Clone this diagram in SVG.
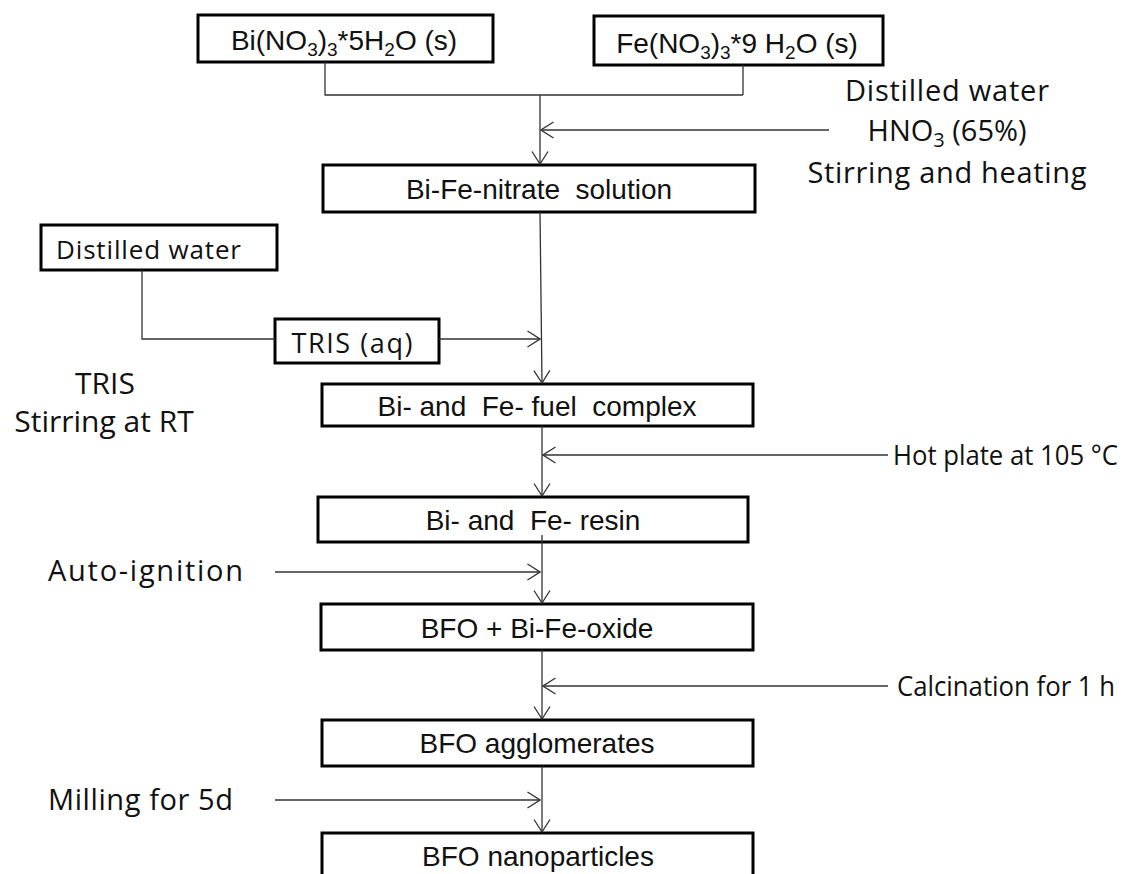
<svg xmlns="http://www.w3.org/2000/svg" width="1136" height="874" viewBox="0 0 1136 874">
<defs>
<marker id="ah" markerUnits="userSpaceOnUse" markerWidth="14" markerHeight="18" viewBox="0 0 14 18" refX="13" refY="9" orient="auto"><path d="M0.5,1 L13,9 L0.5,17" fill="none" stroke="#333" stroke-width="1.3"/></marker>
</defs>
<style>
.box{fill:#fff;stroke:#000;stroke-width:3}
.a{font-family:"Liberation Sans",Arial,sans-serif;font-size:28px;fill:#111;text-anchor:middle;white-space:pre}
.c{font-family:"Open Sans",sans-serif;fill:#111}
.ln{fill:none;stroke:#333;stroke-width:1.3}
.arr{fill:none;stroke:#333;stroke-width:1.3;marker-end:url(#ah)}
</style>
<rect width="1136" height="874" fill="#fff"/>
<g id="bi-nitrate">
<rect class="box" x="198" y="15" width="295" height="47"/>
<text class="a" x="344" y="50" style="font-size:28px">Bi(NO<tspan dy="6" font-size="19">3</tspan><tspan dy="-6">)</tspan><tspan dy="6" font-size="19">3</tspan><tspan dy="-6">*5H</tspan><tspan dy="6" font-size="19">2</tspan><tspan dy="-6">O (s)</tspan></text>
</g>
<g id="fe-nitrate">
<rect class="box" x="594" y="16" width="289" height="49"/>
<text class="a" x="737" y="53" style="font-size:28px">Fe(NO<tspan dy="6" font-size="19">3</tspan><tspan dy="-6">)</tspan><tspan dy="6" font-size="19">3</tspan><tspan dy="-6">*9 H</tspan><tspan dy="6" font-size="19">2</tspan><tspan dy="-6">O (s)</tspan></text>
</g>
<g id="label-top-right">
<text class="c" x="947" y="101" font-size="29" text-anchor="middle" textLength="204">Distilled water</text>
<text class="c" x="947" y="141" font-size="29" text-anchor="middle">HNO<tspan dy="6" font-size="20">3</tspan><tspan dy="-6"> (65%)</tspan></text>
<text class="c" x="947" y="183" font-size="29" text-anchor="middle" textLength="279">Stirring and heating</text>
</g>
<g id="bi-fe-nitrate-solution">
<rect class="box" x="323" y="165" width="432" height="47"/>
<text class="a" x="539" y="199">Bi-Fe-nitrate  solution</text>
</g>
<g id="distilled-water">
<rect class="box" x="41" y="225" width="236" height="45"/>
<text class="c" x="56" y="259" font-size="26" textLength="185">Distilled water</text>
</g>
<g id="tris-aq">
<rect class="box" x="275" y="319" width="164" height="44"/>
<text class="c" x="352" y="353" font-size="27" text-anchor="middle" textLength="121">TRIS (aq)</text>
</g>
<g id="label-tris">
<text class="c" x="105" y="394" font-size="30" text-anchor="middle">TRIS</text>
<text class="c" x="104" y="432" font-size="30" text-anchor="middle">Stirring at RT</text>
</g>
<g id="fuel-complex">
<rect class="box" x="322" y="384" width="431" height="42"/>
<text class="a" x="537" y="416">Bi- and  Fe- fuel  complex</text>
</g>
<g id="label-hot-plate">
<text class="c" x="893" y="465" font-size="28" textLength="225" lengthAdjust="spacingAndGlyphs">Hot plate at 105 °C</text>
</g>
<g id="resin">
<rect class="box" x="318" y="497" width="430" height="45"/>
<text class="a" x="533" y="530">Bi- and  Fe- resin</text>
</g>
<g id="label-auto-ignition">
<text class="c" x="48" y="581" font-size="29" textLength="195">Auto-ignition</text>
</g>
<g id="bfo-oxide">
<rect class="box" x="321" y="604" width="432" height="46"/>
<text class="a" x="537" y="638">BFO + Bi-Fe-oxide</text>
</g>
<g id="label-calcination">
<text class="c" x="897" y="696" font-size="28" textLength="218" lengthAdjust="spacingAndGlyphs">Calcination for 1 h</text>
</g>
<g id="agglomerates">
<rect class="box" x="322" y="720" width="431" height="46"/>
<text class="a" x="537" y="753">BFO agglomerates</text>
</g>
<g id="label-milling">
<text class="c" x="48" y="810" font-size="29" textLength="185">Milling for 5d</text>
</g>
<g id="nanoparticles">
<rect class="box" x="322" y="833" width="431" height="60"/>
<text class="a" x="538" y="866">BFO nanoparticles</text>
</g>
<g id="connectors">
<path class="ln" d="M325,62 V95 H743 M743,65 V95"/>
<path class="arr" d="M540,95 V164"/>
<path class="arr" d="M829,130 H541"/>
<path class="arr" d="M540,212 L542,383"/>
<path class="ln" d="M142,270 V339 H275"/>
<path class="arr" d="M439,339 H540"/>
<path class="arr" d="M542,426 V496"/>
<path class="arr" d="M888,455 H543"/>
<path class="arr" d="M542,535 V603"/>
<path class="arr" d="M275,572 H540"/>
<path class="arr" d="M542,650 V719"/>
<path class="arr" d="M888,686 H543"/>
<path class="arr" d="M542,766 V832"/>
<path class="arr" d="M275,800 H540"/>
</g>
</svg>
